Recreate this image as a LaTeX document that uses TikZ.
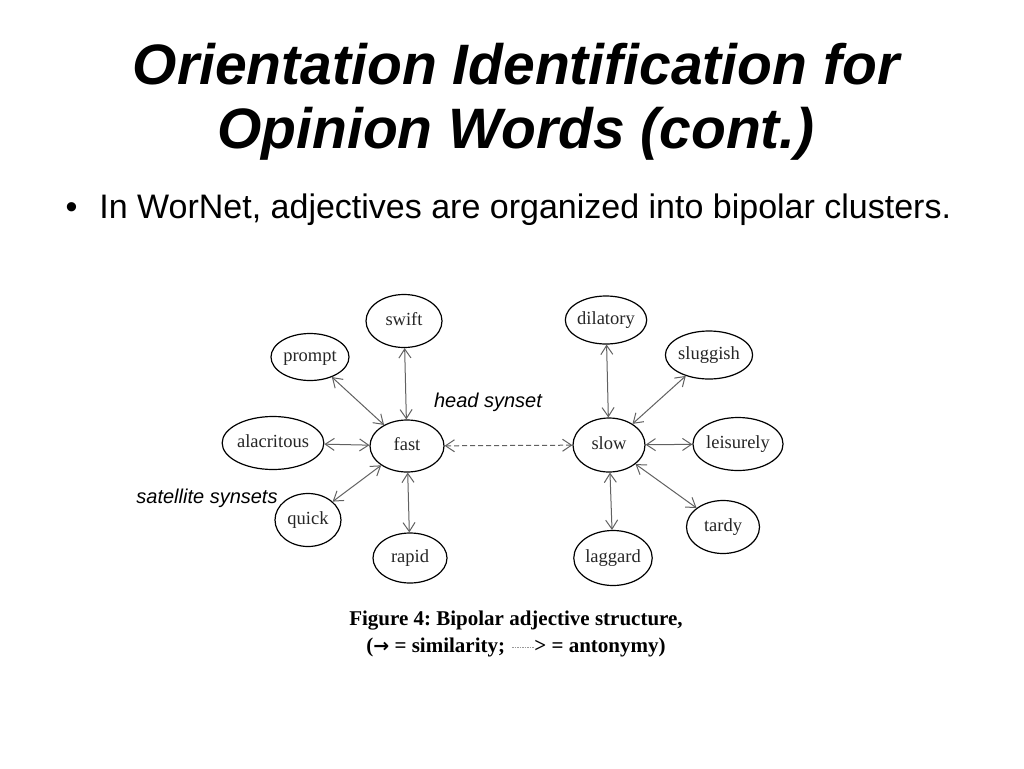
\documentclass[tikz,border=0pt]{standalone}
\usepackage{fontspec}
\setmainfont{Liberation Sans}
\newfontfamily\serifx{Liberation Serif}
\newfontfamily\arrowfont{DejaVu Sans}
\usetikzlibrary{shapes.geometric,arrows.meta}
\frenchspacing
\tikzset{
  word/.style={ellipse,draw,line width=1.2pt,inner sep=0pt,font=\serifx\fontsize{18.5}{20}\selectfont,text=black!85,text height=12pt,text depth=3pt},
  sim/.style={draw=black!62,line width=1pt,{Straight Barb[length=9pt,width=12pt]}-{Straight Barb[length=9pt,width=12pt]}},
  ant/.style={sim,dashed,dash pattern=on 5pt off 3pt},
  note/.style={font=\itshape\fontsize{20}{22}\selectfont},
}
\begin{document}
\begin{tikzpicture}[x=1pt,y=-1pt]
\useasboundingbox[fill=white] (0,0) rectangle (1024,768);
\node[font=\bfseries\itshape\fontsize{57}{64}\selectfont,align=center] (title) at (516,102) {Orientation Identification for\\Opinion Words (cont.)};
\node[anchor=west,font=\fontsize{34}{36}\selectfont] (bullet) at (62,210) {\textbullet\hspace{22pt}In WorNet, adjectives are organized into bipolar clusters.};
% left cluster
\node[word,minimum width=74pt,minimum height=52pt] (fast) at (407,446) {fast};
\node[word,minimum width=76pt,minimum height=53pt] (swift) at (404,321) {swift};
\node[word,minimum width=78pt,minimum height=47pt] (prompt) at (310,357) {prompt};
\node[word,minimum width=94pt,minimum height=53pt] (alacritous) at (273,443) {alacritous};
\node[word,minimum width=66pt,minimum height=53pt] (quick) at (308,520) {quick};
\node[word,minimum width=74pt,minimum height=50pt] (rapid) at (410,558) {rapid};
% right cluster
\node[word,minimum width=72pt,minimum height=54pt] (slow) at (609,445) {slow};
\node[word,minimum width=74pt,minimum height=48pt] (dilatory) at (606,320) {dilatory};
\node[word,minimum width=74pt,minimum height=48pt] (sluggish) at (709,355) {sluggish};
\node[word,minimum width=88pt,minimum height=53pt] (leisurely) at (738,444) {leisurely};
\node[word,minimum width=73pt,minimum height=53pt] (tardy) at (723,527) {tardy};
\node[word,minimum width=73pt,minimum height=55pt] (laggard) at (613,558) {laggard};
% similarity
\draw[sim] (fast) -- (swift);
\draw[sim] (fast) -- (prompt);
\draw[sim] (fast) -- (alacritous);
\draw[sim] (fast) -- (quick);
\draw[sim] (fast) -- (rapid);
\draw[sim] (slow) -- (dilatory);
\draw[sim] (slow) -- (sluggish);
\draw[sim] (slow) -- (leisurely);
\draw[sim] (slow) -- (tardy);
\draw[sim] (slow) -- (laggard);
% antonymy
\draw[ant] (fast) -- (slow);
% labels
\node[note] (head) at (488,402) {head synset};
\node[note] (sat) at (207,498) {satellite synsets};
% caption
\node[font=\serifx\bfseries\fontsize{21}{27}\selectfont,align=center] (caption) at (516,634) {Figure 4: Bipolar adjective structure,\\({\arrowfont\bfseries\fontsize{19}{19}\selectfont →} = similarity; {\color{black!40}\leaders\hbox to 2.5pt{\hss\rule[5pt]{1.6pt}{0.7pt}\hss}\hskip 24pt}> = antonymy)};
\end{tikzpicture}
\end{document}
